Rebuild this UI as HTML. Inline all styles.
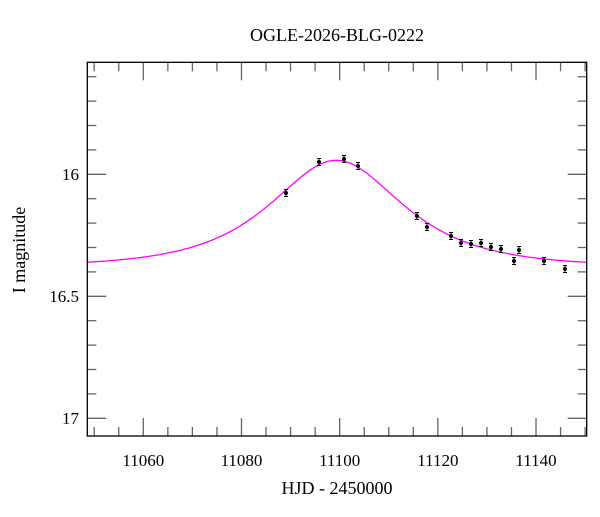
<!DOCTYPE html>
<html><head><meta charset="utf-8"><style>
html,body{margin:0;padding:0;background:#fff;}
svg text{font-family:"Liberation Serif",serif;fill:#000;}
</style></head><body>
<svg id="s" width="600" height="512" xmlns="http://www.w3.org/2000/svg">
<rect width="600" height="512" fill="#fff"/>
<text x="337" y="41" font-size="18" text-anchor="middle">OGLE-2026-BLG-0222</text>
<text x="337" y="494" font-size="18" text-anchor="middle">HJD - 2450000</text>
<text transform="translate(25,250) rotate(-90)" font-size="18" text-anchor="middle">I magnitude</text>
<g id="ticks" stroke="#666" stroke-width="1.3"></g>
<g font-size="17" text-anchor="middle">
<text x="143.3" y="466">11060</text><text x="241.5" y="466">11080</text><text x="339.7" y="466">11100</text><text x="437.9" y="466">11120</text><text x="536" y="466">11140</text>
</g>
<g font-size="17" text-anchor="end">
<text x="79" y="180">16</text><text x="79" y="302">16.5</text><text x="79" y="424">17</text>
</g>
<path id="curve" fill="none" stroke="#f0f" stroke-width="1.3"/>
<g id="pts" stroke="#000" fill="#000"></g>
<rect x="87.3" y="62.3" width="499.4" height="373.7" fill="none" stroke="#000" stroke-width="1.3"/>
</svg>
<script>
var X0=87.3,X1=586.7,Y0=62.3,Y1=436;
function px(t){return 143.3+(t-11060)*4.909;}
function py(m){return 174.3+(m-16)*244;}
var tk=document.getElementById('ticks'),h='';
for(var t=11050;t<=11150;t+=5){var x=px(t);if(x<X0||x>X1)continue;var L=(t%20==0)?18:9;
h+='<line x1="'+x+'" y1="'+Y1+'" x2="'+x+'" y2="'+(Y1-L)+'"/><line x1="'+x+'" y1="'+Y0+'" x2="'+x+'" y2="'+(Y0+L)+'"/>';}
for(var i=156;i<=170;i++){var m=i/10,y=py(m);if(y<Y0||y>Y1)continue;var L=(i%5==0)?19:9;
h+='<line x1="'+X0+'" y1="'+y+'" x2="'+(X0+L)+'" y2="'+y+'"/><line x1="'+X1+'" y1="'+y+'" x2="'+(X1-L)+'" y2="'+y+'"/>';}
tk.innerHTML=h;
var d='';for(var t=11048.5;t<=11150.3;t+=0.3){var u0=0.83,tE=18,dt=(t-11099.3)/tE,u=Math.sqrt(u0*u0+dt*dt);
var A=(u*u+2)/(u*Math.sqrt(u*u+4));var m=16.38-2.5*Math.log10(A);d+=(d?'L':'M')+px(t).toFixed(1)+','+py(m).toFixed(1);}
document.getElementById('curve').setAttribute('d',d);
var P=[[286,193],[319,162],[344,159],[358,166],[417,216],[427,227],[451,236],[461,243],[471,244],[481,243],[491,247],[501,249],[514,261],[519,250],[544,261],[565,269]];
var g='';P.forEach(function(p){g+='<line x1="'+p[0]+'" y1="'+(p[1]-3.5)+'" x2="'+p[0]+'" y2="'+(p[1]+3.5)+'" stroke-width="1"/><line x1="'+(p[0]-2)+'" y1="'+(p[1]-3.5)+'" x2="'+(p[0]+2)+'" y2="'+(p[1]-3.5)+'" stroke-width="1"/><line x1="'+(p[0]-2)+'" y1="'+(p[1]+3.5)+'" x2="'+(p[0]+2)+'" y2="'+(p[1]+3.5)+'" stroke-width="1"/><circle cx="'+p[0]+'" cy="'+p[1]+'" r="2" stroke="none"/>';});
document.getElementById('pts').innerHTML=g;
</script>
</body></html>
